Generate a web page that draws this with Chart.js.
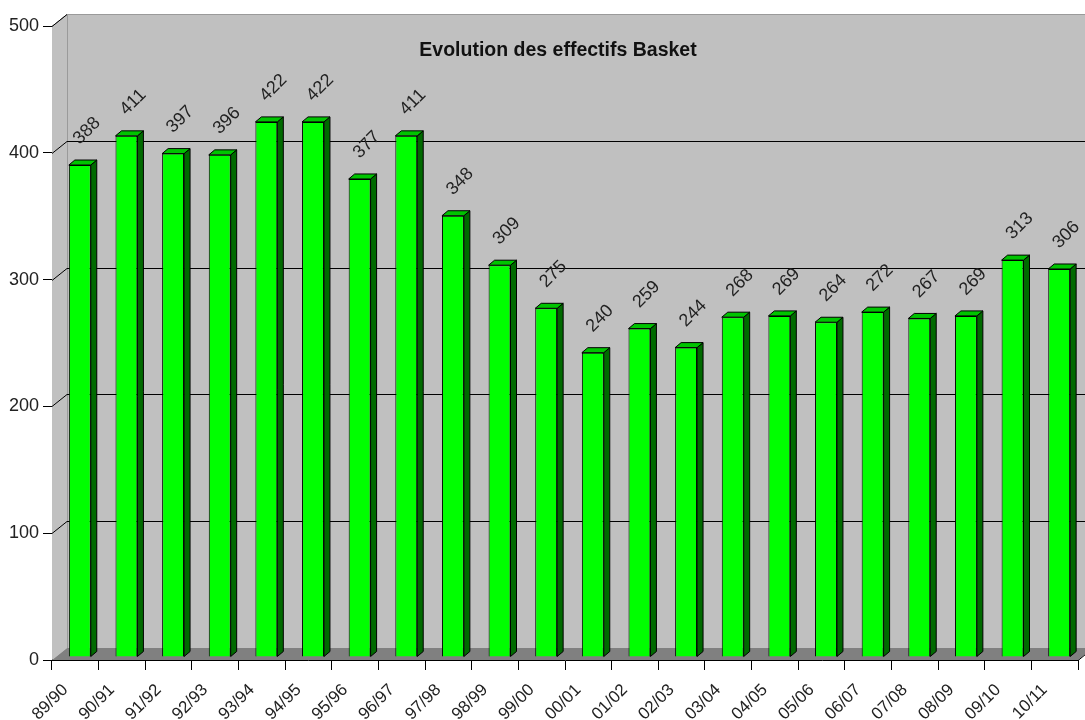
<!DOCTYPE html>
<html>
<head>
<meta charset="utf-8">
<script src="https://cdn.jsdelivr.net/npm/chart.js@4.4.0/dist/chart.umd.min.js"></script>
<style>
  html, body { margin: 0; padding: 0; background: #fff; }
  #wrap { width: 1085px; height: 720px; position: relative; }
</style>
</head>
<body>
<div id="wrap"><canvas id="mycanvas"></canvas></div>
<script>
// data
var seasons = ["89/90","90/91","91/92","92/93","93/94","94/95","95/96","96/97","97/98","98/99","99/00",
               "00/01","01/02","02/03","03/04","04/05","05/06","06/07","07/08","08/09","09/10","10/11"];
var effectifs = [388,411,397,396,422,422,377,411,348,309,275,240,259,244,268,269,264,272,267,269,313,306];
var yTicks = [0,100,200,300,400,500];
var chartTitle = "Evolution des effectifs Basket";

// 3d look
var wallDX = 15, wallDY = -12;   // depth of back wall
var barShiftX = 4.5, barShiftY = -3; // bars sit a bit inside the box
var barDX = 6, barDY = -5;       // depth of a bar

var fake3d = {
	id: 'fake3d',
	beforeDatasetsDraw: function(chart) {
		var c = chart.ctx, a = chart.chartArea, y = chart.scales.y;
		var top = y.getPixelForValue(500), bot = y.getPixelForValue(0);
		c.save();
		// left wall
		c.fillStyle = '#c0c0c0';
		c.beginPath();
		c.moveTo(a.left, top); c.lineTo(a.left + wallDX, top + wallDY);
		c.lineTo(a.left + wallDX, bot + wallDY); c.lineTo(a.left, bot);
		c.closePath(); c.fill();
		// back wall
		c.fillRect(a.left + wallDX, top + wallDY, chart.width - a.left - wallDX, bot - top);
		c.strokeStyle = '#9a9a9a'; c.lineWidth = 1;
		c.beginPath();
		c.moveTo(a.left, top + 0.5); c.lineTo(a.left + wallDX, top + wallDY + 0.5);
		c.lineTo(chart.width, top + wallDY + 0.5);
		c.moveTo(a.left + wallDX + 0.5, top + wallDY); c.lineTo(a.left + wallDX + 0.5, bot + wallDY);
		c.stroke();
		// floor
		c.fillStyle = '#808080';
		c.beginPath();
		c.moveTo(a.left, bot); c.lineTo(a.left + wallDX, bot + wallDY);
		c.lineTo(a.right + wallDX, bot + wallDY); c.lineTo(a.right, bot);
		c.closePath(); c.fill();
		c.strokeStyle = '#000';
		c.beginPath();
		c.moveTo(a.right, bot + 0.5); c.lineTo(a.right + wallDX, bot + wallDY + 0.5);
		c.stroke();
		// grid lines on the back wall
		c.strokeStyle = '#000';
		yTicks.forEach(function(v) {
			if (v === 0) return;
			var py = Math.round(y.getPixelForValue(v)) + 0.5;
			c.beginPath();
			c.moveTo(a.left, py);
			c.lineTo(a.left + wallDX, py + wallDY);
			if (v < 500) c.lineTo(chart.width, py + wallDY);
			c.stroke();
		});
		// title
		c.fillStyle = '#111';
		c.font = 'bold 19.5px "Liberation Sans", Arial, sans-serif';
		c.textAlign = 'center'; c.textBaseline = 'middle';
		c.fillText(chartTitle, 558, 51);
		c.restore();

		chart.ctx.save();
		chart.ctx.translate(barShiftX, barShiftY);
	},
	afterDatasetsDraw: function(chart) {
		var c = chart.ctx;
		var meta = chart.getDatasetMeta(0);
		c.lineWidth = 1;
		c.strokeStyle = '#000';
		meta.data.forEach(function(bar, i) {
			var p = bar.getProps(['x','y','base','width'], true);
			var l = p.x - p.width / 2, r = p.x + p.width / 2;
			// side
			c.fillStyle = '#006a00';
			c.beginPath();
			c.moveTo(r, p.y); c.lineTo(r + barDX, p.y + barDY);
			c.lineTo(r + barDX, p.base + barDY); c.lineTo(r, p.base);
			c.closePath(); c.fill(); c.stroke();
			// top
			c.fillStyle = '#00c400';
			c.beginPath();
			c.moveTo(l, p.y); c.lineTo(l + barDX, p.y + barDY);
			c.lineTo(r + barDX, p.y + barDY); c.lineTo(r, p.y);
			c.closePath(); c.fill(); c.stroke();
		});
		// value labels, turned
		c.fillStyle = '#222';
		c.font = '18px "Liberation Sans", Arial, sans-serif';
		c.textAlign = 'left'; c.textBaseline = 'alphabetic';
		meta.data.forEach(function(bar, i) {
			c.save();
			c.translate(bar.x, bar.y - 20);
			c.rotate(-Math.PI / 4);
			c.fillText(String(effectifs[i]), 0, 0);
			c.restore();
		});
		c.restore();
	}
};

var ctx = document.getElementById('mycanvas');
var barGraph = new Chart(ctx, {
	type: 'bar',
	data: {
		labels: seasons,
		datasets: [{
			label: 'Effectifs',
			data: effectifs,
			backgroundColor: '#00ff00',
			borderColor: '#000',
			borderWidth: 1,
			barPercentage: 0.47,
			categoryPercentage: 1.0
		}]
	},
	options: {
		responsive: true,
		maintainAspectRatio: false,
		animation: false,
		layout: { padding: { top: 26, right: 7, left: 0, bottom: 0 } },
		plugins: {
			legend: { display: false },
			title: { display: false },
			tooltip: { enabled: false }
		},
		scales: {
			x: {
				offset: true,
				grid: { offset: true, drawOnChartArea: false, color: '#000', tickLength: 10 },
				border: { color: '#000' },
				ticks: {
					minRotation: 45, maxRotation: 45, padding: 10, labelOffset: -10,
					color: '#222',
					font: { family: '"Liberation Sans", Arial, sans-serif', size: 17 }
				},
				afterFit: function(s) { s.height = 60; }
			},
			y: {
				min: 0, max: 500,
				grid: { drawOnChartArea: false, color: '#000', tickLength: 9 },
				border: { color: '#000' },
				ticks: {
					stepSize: 100, padding: 4,
					color: '#222',
					font: { family: '"Liberation Sans", Arial, sans-serif', size: 18 }
				},
				afterFit: function(s) { s.width = 52; }
			}
		}
	},
	plugins: [fake3d]
});
</script>
</body>
</html>
